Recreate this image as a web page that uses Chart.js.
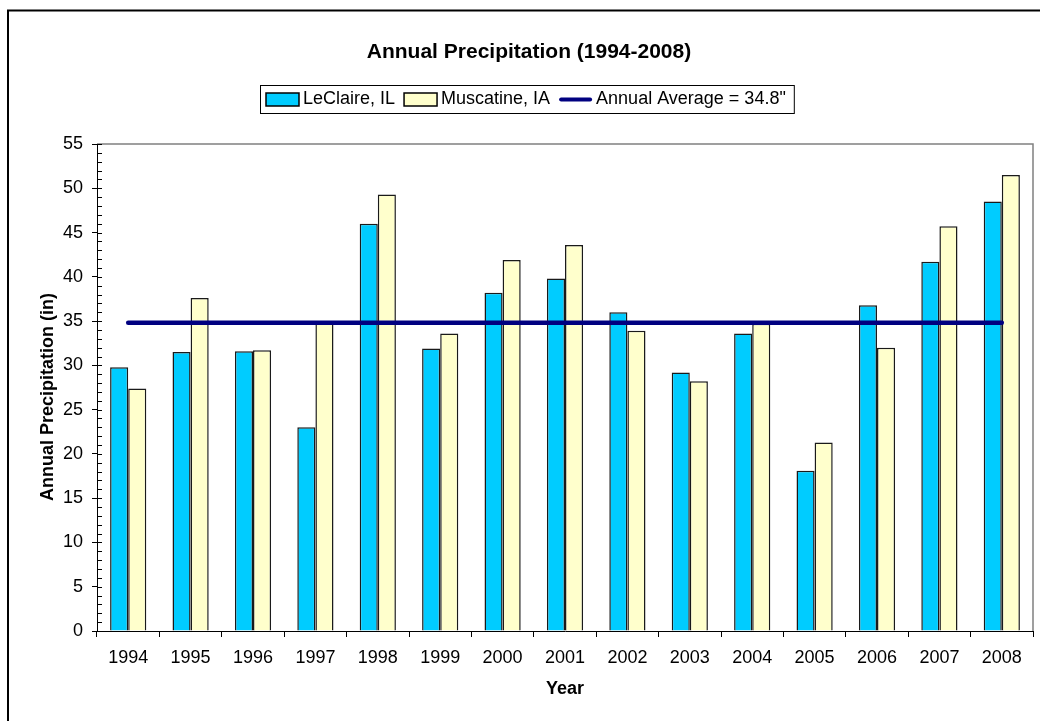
<!DOCTYPE html>
<html>
<head>
<meta charset="utf-8">
<title>Annual Precipitation (1994-2008)</title>
<script src="https://cdn.jsdelivr.net/npm/chart.js@4.4.1/dist/chart.umd.min.js"></script>
<style>
  html, body { margin: 0; padding: 0; background: #ffffff; }
  #wrap { width: 1040px; height: 721px; position: relative; overflow: hidden; }
  canvas { display: block; }
</style>
</head>
<body>
<div id="wrap"><canvas id="chart" width="1040" height="721"></canvas></div>
<script>
// Year categories along the x axis
const YEARS = ['1994', '1995', '1996', '1997', '1998', '1999', '2000', '2001',
               '2002', '2003', '2004', '2005', '2006', '2007', '2008'];

// Annual precipitation totals, inches
const LECLAIRE  = [29.8, 31.5, 31.6, 23.0, 46.0, 31.9, 38.2, 39.8, 36.0, 29.2, 33.6, 18.1, 36.8, 41.7, 48.5];
const MUSCATINE = [27.4, 37.6, 31.7, 34.8, 49.3, 33.6, 41.9, 43.6, 33.9, 28.2, 34.7, 21.3, 32.0, 45.7, 51.5];

// Long-term annual average, one value per year
const AVERAGE = [34.8, 34.8, 34.8, 34.8, 34.8, 34.8, 34.8, 34.8, 34.8, 34.8, 34.8, 34.8, 34.8, 34.8, 34.8];

// Value axis range and tick spacing
const Y_MIN = 0;
const Y_MAX = 55;
const Y_STEP = 5;
const Y_MINOR_STEP = 1;

const SERIES_NAMES = ['LeClaire, IL', 'Muscatine, IA', 'Annual Average = 34.8"'];
const TITLE_TEXT = 'Annual Precipitation (1994-2008)';
const X_TITLE = 'Year';
const Y_TITLE = 'Annual Precipitation (in)';

const FONT = "'Liberation Sans', Arial, Helvetica, sans-serif";

// Frame, title, legend, axis titles and the inner tick marks
const decor = {
  id: 'decor',
  afterDraw(chart) {
    const ctx = chart.ctx;
    const area = chart.chartArea;
    const ys = chart.scales.y;
    ctx.save();

    // outer frame of the chart
    ctx.strokeStyle = '#000000';
    ctx.lineWidth = 2;
    ctx.beginPath();
    ctx.moveTo(8, 740);
    ctx.lineTo(8, 10.5);
    ctx.lineTo(1060, 10.5);
    ctx.stroke();

    // plot area border (top and right)
    ctx.strokeStyle = '#808080';
    ctx.lineWidth = 1.5;
    ctx.beginPath();
    ctx.moveTo(area.left, area.top);
    ctx.lineTo(area.right, area.top);
    ctx.lineTo(area.right, area.bottom);
    ctx.stroke();

    // tick marks on the inner side of the value axis
    ctx.strokeStyle = '#000000';
    ctx.lineWidth = 1;
    ctx.beginPath();
    for (let v = Y_MIN; v <= Y_MAX; v += Y_MINOR_STEP) {
      const py = Math.round(ys.getPixelForValue(v)) + 0.5;
      ctx.moveTo(area.left, py);
      ctx.lineTo(area.left + 5, py);
    }
    ctx.stroke();

    // chart title
    ctx.fillStyle = '#000000';
    ctx.font = 'bold 21px ' + FONT;
    ctx.textAlign = 'center';
    ctx.textBaseline = 'alphabetic';
    ctx.fillText(TITLE_TEXT, 529, 58);

    // axis titles
    ctx.font = 'bold 18px ' + FONT;
    ctx.fillText(X_TITLE, (area.left + area.right) / 2, 694);
    ctx.save();
    ctx.translate(53, 397);
    ctx.rotate(-Math.PI / 2);
    ctx.fillText(Y_TITLE, 0, 0);
    ctx.restore();

    // legend
    const ds = chart.data.datasets;
    ctx.font = '18px ' + FONT;
    ctx.textAlign = 'left';
    ctx.textBaseline = 'middle';
    const keyW = 33, keyH = 13, gapKey = 4, gapItem = 9;
    let total = 0;
    ds.forEach((d, i) => {
      total += keyW + gapKey + ctx.measureText(d.label).width + (i < ds.length - 1 ? gapItem : 0);
    });
    const boxL = 260, boxT = 85, boxB = 113;
    const boxR = boxL + 6 + total + 8;
    const cy = (boxT + boxB) / 2 + 0.5;
    ctx.fillStyle = '#ffffff';
    ctx.fillRect(boxL, boxT, boxR - boxL, boxB - boxT);
    ctx.strokeStyle = '#000000';
    ctx.lineWidth = 1;
    ctx.strokeRect(boxL + 0.5, boxT + 0.5, boxR - boxL, boxB - boxT);
    let x = boxL + 6;
    ds.forEach((d) => {
      if (d.type === 'line') {
        ctx.strokeStyle = d.borderColor;
        ctx.lineWidth = 4;
        ctx.lineCap = 'round';
        ctx.beginPath();
        ctx.moveTo(x + 2, cy);
        ctx.lineTo(x + keyW - 2, cy);
        ctx.stroke();
      } else {
        ctx.fillStyle = d.backgroundColor;
        ctx.fillRect(x, cy - keyH / 2, keyW, keyH);
        ctx.strokeStyle = '#000000';
        ctx.lineWidth = 1.5;
        ctx.strokeRect(x, cy - keyH / 2, keyW, keyH);
      }
      x += keyW + gapKey;
      ctx.fillStyle = '#000000';
      ctx.fillText(d.label, x, cy);
      x += ctx.measureText(d.label).width + gapItem;
    });

    ctx.restore();
  }
};

const tickFont = { family: FONT, size: 18 };

new Chart(document.getElementById('chart').getContext('2d'), {
  data: {
    labels: YEARS,
    datasets: [
      {
        type: 'bar',
        label: SERIES_NAMES[0],
        data: LECLAIRE,
        backgroundColor: '#00CCFF',
        borderColor: '#1a1a1a',
        borderWidth: 1.5,
        categoryPercentage: 0.58,
        barPercentage: 1.0,
        order: 1
      },
      {
        type: 'bar',
        label: SERIES_NAMES[1],
        data: MUSCATINE,
        backgroundColor: '#FFFFCC',
        borderColor: '#1a1a1a',
        borderWidth: 1.5,
        categoryPercentage: 0.58,
        barPercentage: 1.0,
        order: 1
      },
      {
        type: 'line',
        label: SERIES_NAMES[2],
        data: AVERAGE,
        borderColor: '#000080',
        borderWidth: 4.5,
        borderCapStyle: 'round',
        pointRadius: 0,
        fill: false,
        order: 0
      }
    ]
  },
  options: {
    responsive: false,
    animation: false,
    devicePixelRatio: 1,
    layout: { padding: { left: 0, top: 144, right: 7, bottom: 0 } },
    plugins: {
      legend: { display: false },
      title: { display: false },
      tooltip: { enabled: false }
    },
    scales: {
      x: {
        type: 'category',
        offset: true,
        grid: {
          offset: true,
          drawOnChartArea: false,
          color: '#000000',
          tickLength: 6,
          lineWidth: 1
        },
        border: { display: true, color: '#000000', width: 1 },
        ticks: { font: tickFont, color: '#000000', padding: 10, maxRotation: 0, autoSkip: false },
        afterFit(scale) { scale.height = 90; }
      },
      y: {
        type: 'linear',
        min: Y_MIN,
        max: Y_MAX,
        grid: {
          drawOnChartArea: false,
          color: '#000000',
          tickLength: 5,
          lineWidth: 1
        },
        border: { display: true, color: '#000000', width: 1 },
        ticks: { stepSize: Y_STEP, font: tickFont, color: '#000000', padding: 9 },
        afterFit(scale) { scale.width = 97; }
      }
    }
  },
  plugins: [decor]
});
</script>
</body>
</html>
